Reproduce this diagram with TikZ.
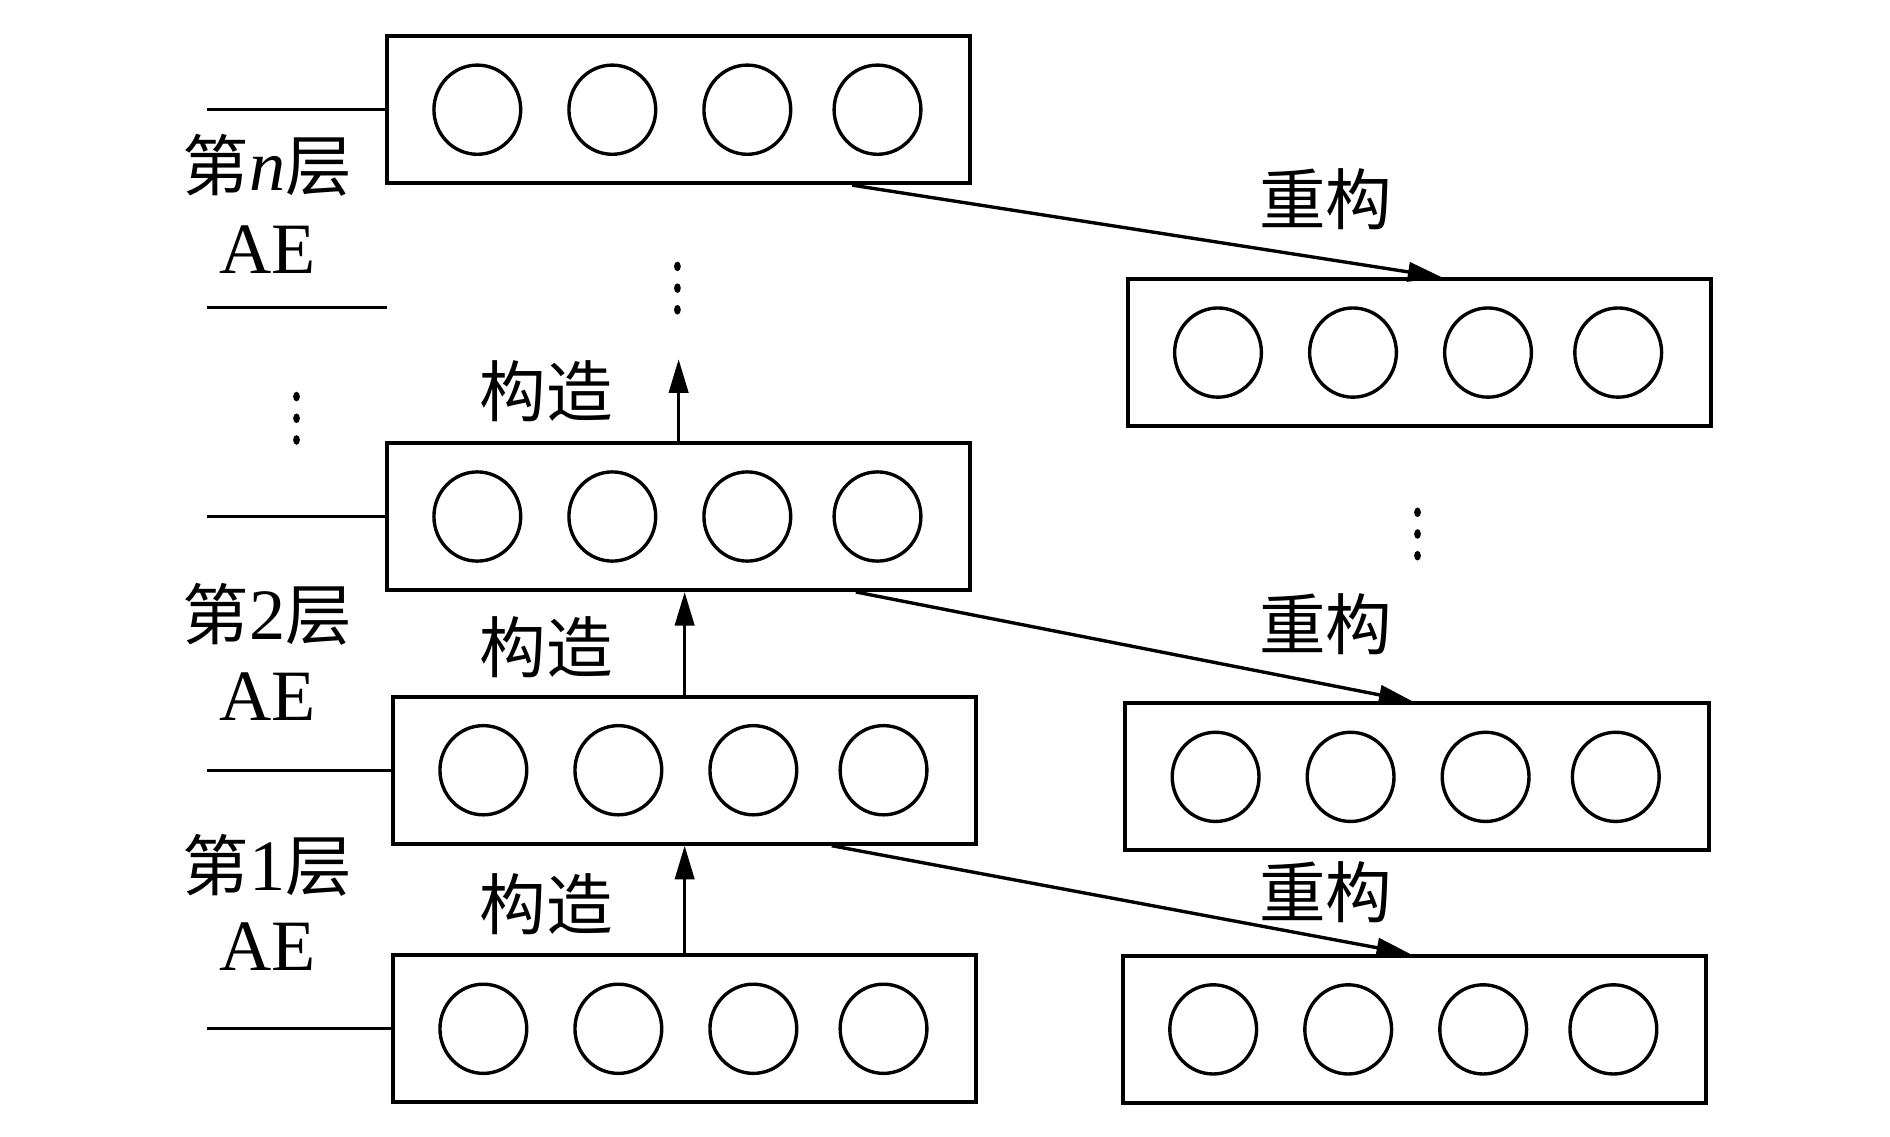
\documentclass[tikz,border=0pt]{standalone}
\usepackage{fontspec}
\setmainfont{Liberation Serif}
\newfontfamily\cjk[Scale=0.92]{Noto Sans CJK SC}
\usetikzlibrary{arrows.meta,shapes.geometric,calc}
\tikzset{
 layerbox/.style={draw, line width=1.6pt, minimum width=242pt, minimum height=61pt, inner sep=0pt},
 unit/.style={draw, ellipse, line width=1.4pt, minimum width=36pt, minimum height=37pt, inner sep=0pt},
 conn/.style={line width=1.4pt},
 arr/.style={line width=1.4pt, -{Triangle[length=14pt,width=8pt]}},
 lbl/.style={font=\fontsize{30}{34}\selectfont, inner sep=0pt},
 dotmark/.style={fill, ellipse, minimum width=2.8pt, minimum height=4pt, inner sep=0pt}
}
\begin{document}
\begin{tikzpicture}[x=0.5pt,y=-0.5pt]
\useasboundingbox (0,0) rectangle (1568,942.5);
% boxes
\node[layerbox] (Ln) at (563,91) {};
\node[layerbox] (L2) at (563,428.5) {};
\node[layerbox] (L1) at (568,639) {};
\node[layerbox] (L0) at (568,853.5) {};
\node[layerbox] (Rn) at (1177.5,292.5) {};
\node[layerbox] (R1) at (1175.5,644.5) {};
\node[layerbox] (R0) at (1173.5,854) {};
\foreach \b in {Ln,L2,L1,L0,Rn,R1,R0}
  \foreach \o [count=\i] in {-167,-55,57,165}
    \node[unit] (\b c\i) at ($(\b)+(\o,0)$) {};
% left side lines
\coordinate (sn) at (172,91);
\coordinate (s2) at (172,428.5);
\coordinate (s1) at (172,639);
\coordinate (s0) at (172,853.5);
\coordinate (sepA) at (172,255);
\coordinate (sepB) at (321,255);
\draw[conn] (sn) -- (Ln.west);
\draw[conn] (s2) -- (L2.west);
\draw[conn] (s1) -- (L1.west);
\draw[conn] (s0) -- (L0.west);
\draw[conn] (sepA) -- (sepB);
% layer labels
\node[lbl] (tn) at (222,137) {{\cjk 第}\textit{n}{\cjk 层}};
\node[lbl] (an) at (222,207) {AE};
\node[lbl] (t2) at (222,510) {{\cjk 第}2{\cjk 层}};
\node[lbl] (a2) at (222,578) {AE};
\node[lbl] (t1) at (222,718) {{\cjk 第}1{\cjk 层}};
\node[lbl] (a1) at (222,785) {AE};
% construct arrows
\coordinate (topend) at (563,298);
\draw[arr] (L0.north) -- (L0.north |- L1.south);
\draw[arr] (L1.north) -- (L1.north |- L2.south);
\draw[arr] (L2.north) -- (topend);
\node[lbl] (g0) at (453,750) {\cjk 构造};
\node[lbl] (g1) at (453,537) {\cjk 构造};
\node[lbl] (g2) at (453,325) {\cjk 构造};
% reconstruct arrows
\draw[arr] ([xshift=72pt]Ln.south) -- ([xshift=9.25pt]Rn.north);
\draw[arr] ([xshift=73.5pt]L2.south) -- ([xshift=-1.75pt]R1.north);
\draw[arr] ([xshift=61pt]L1.south) -- ([xshift=-1.75pt]R0.north);
\node[lbl] (r2) at (1100,165) {\cjk 重构};
\node[lbl] (r1) at (1100,518) {\cjk 重构};
\node[lbl] (r0) at (1100,740) {\cjk 重构};
% dots
\node[dotmark] (d1) at (562,221) {};
\node[dotmark] (d2) at (562,239) {};
\node[dotmark] (d3) at (562,257) {};
\node[dotmark] (d4) at (246,329) {};
\node[dotmark] (d5) at (246,347) {};
\node[dotmark] (d6) at (246,365) {};
\node[dotmark] (d7) at (1176,425) {};
\node[dotmark] (d8) at (1176,443) {};
\node[dotmark] (d9) at (1176,461) {};
\end{tikzpicture}
\end{document}
